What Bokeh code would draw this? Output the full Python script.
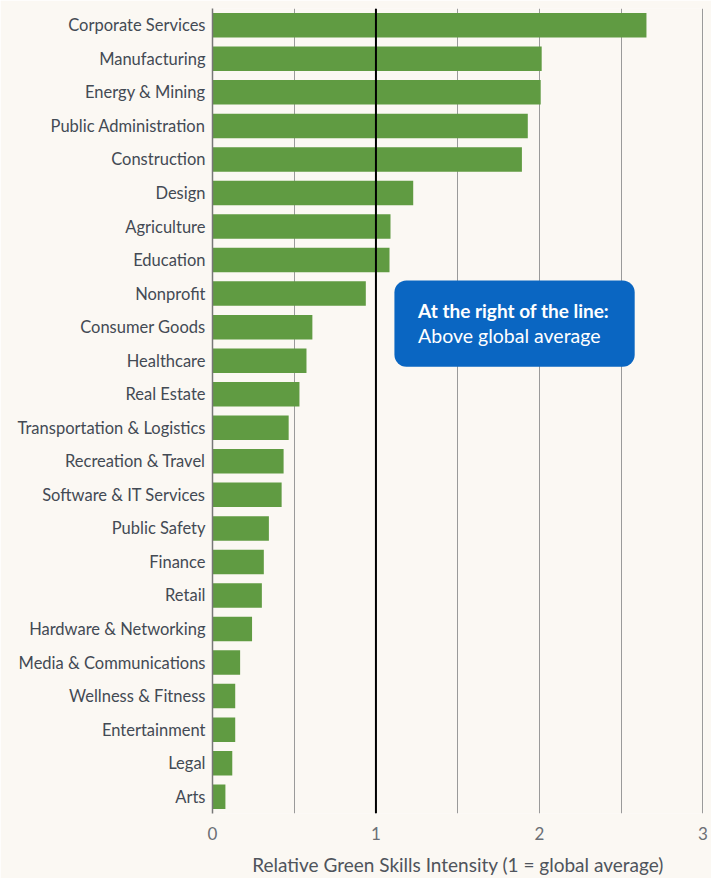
from bokeh.plotting import figure
from bokeh.models import ColumnDataSource, Span, BoxAnnotation, Label, FixedTicker
from bokeh.embed import file_html
from bokeh.resources import INLINE

industries = ["Corporate Services", "Manufacturing", "Energy & Mining", "Public Administration",
              "Construction", "Design", "Agriculture", "Education", "Nonprofit", "Consumer Goods",
              "Healthcare", "Real Estate", "Transportation & Logistics", "Recreation & Travel",
              "Software & IT Services", "Public Safety", "Finance", "Retail",
              "Hardware & Networking", "Media & Communications", "Wellness & Fitness",
              "Entertainment", "Legal", "Arts"]
intensity = [2.655, 2.014, 2.008, 1.929, 1.893, 1.228, 1.089, 1.083, 0.938, 0.611,
             0.575, 0.532, 0.466, 0.435, 0.423, 0.345, 0.314, 0.302,
             0.242, 0.169, 0.139, 0.139, 0.121, 0.079]
x_ticks = [0, 1, 2, 3]
grid_ticks = [0, 0.5, 1, 1.5, 2, 2.5, 3]
x_title = "Relative Green Skills Intensity (1 = global average)"
note_title = "At the right of the line:"
note_body = "Above global average"

FONT = "Lato"
BG = "#FBF8F3"

source = ColumnDataSource(dict(industry=industries, value=intensity))

p = figure(width=711, height=878, y_range=list(reversed(industries)), x_range=(0, 3.004),
           output_backend="svg", toolbar_location=None,
           min_border_left=212, min_border_right=8, min_border_top=8, min_border_bottom=65)
p.background_fill_color = BG
p.border_fill_color = BG
p.outline_line_color = None

p.hbar(y="industry", right="value", height=0.73, source=source,
       fill_color="#609B42", line_color=None)

# grid
p.xgrid.ticker = FixedTicker(ticks=grid_ticks)
p.xgrid.grid_line_color = "#9a9a9a"
p.xgrid.grid_line_width = 1
p.ygrid.grid_line_color = None

# x axis
p.xaxis.ticker = FixedTicker(ticks=x_ticks)
p.xaxis.axis_line_color = None
p.xaxis.major_tick_line_color = None
p.xaxis.minor_tick_line_color = None
p.xaxis.major_tick_out = 0
p.xaxis.major_label_standoff = 13
p.xaxis.major_label_text_font = FONT
p.xaxis.major_label_text_font_size = "17px"
p.xaxis.major_label_text_color = "#6b6f75"
p.xaxis.axis_label = x_title
p.xaxis.axis_label_text_font = FONT
p.xaxis.axis_label_text_font_size = "19px"
p.xaxis.axis_label_text_font_style = "normal"
p.xaxis.axis_label_text_color = "#4f545c"
p.xaxis.axis_label_standoff = 10

# y axis
p.yaxis.axis_line_color = "#777777"
p.yaxis.axis_line_width = 1.5
p.yaxis.major_tick_line_color = None
p.yaxis.minor_tick_line_color = None
p.yaxis.major_tick_out = 0
p.yaxis.major_label_standoff = 7
p.yaxis.major_label_text_font = FONT
p.yaxis.major_label_text_font_size = "16.5px"
p.yaxis.major_label_text_color = "#434a54"

# global average line
p.add_layout(Span(location=1, dimension="height", line_color="black", line_width=2))

# annotation box (y in categorical synthetic units)
p.add_layout(BoxAnnotation(left=1.113, right=2.583, top=15.89, bottom=13.32,
                           fill_color="#0A66C2", fill_alpha=1, line_color=None,
                           border_radius=12))
p.add_layout(Label(x=1.258, y=15.01, text=note_title, text_font=FONT,
                   text_font_size="19px", text_font_style="bold", text_color="white",
                   text_baseline="middle"))
p.add_layout(Label(x=1.258, y=14.25, text=note_body, text_font=FONT,
                   text_font_size="19.5px", text_color="white", text_baseline="middle"))

open("out.html", "w").write(file_html(p, INLINE))
